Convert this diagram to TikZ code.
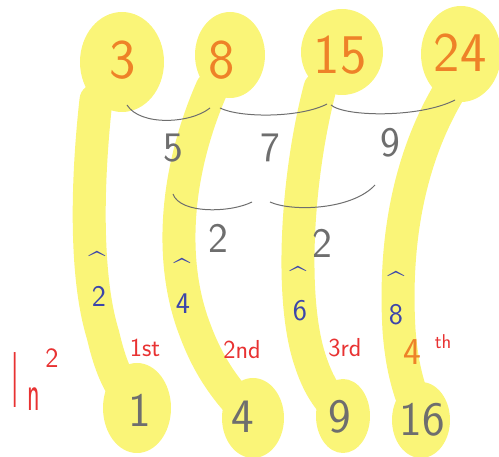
\documentclass[tikz,border=0pt]{standalone}
\begin{document}
\begin{tikzpicture}[x=1pt,y=-1pt,
  hl/.style={draw=hly,line width=33pt,line cap=round},
  blob/.style={fill=hly,draw=none},
  top/.style={text=orng,font=\sffamily\fontsize{56}{56}\selectfont,inner sep=0pt},
  diff/.style={text=gry,font=\sffamily\fontsize{42}{42}\selectfont,inner sep=0pt},
  sq/.style={text=gry,font=\sffamily\fontsize{48}{48}\selectfont,inner sep=0pt},
  bl/.style={text=blu,font=\sffamily\fontsize{30}{30}\selectfont,inner sep=0pt},
  rd/.style={text=red0,font=\sffamily\fontsize{26}{26}\selectfont,inner sep=0pt},
  arc/.style={draw=gry,line width=1pt}]
\definecolor{hly}{RGB}{250,245,120}
\definecolor{orng}{RGB}{238,130,40}
\definecolor{gry}{RGB}{110,110,110}
\definecolor{blu}{RGB}{60,70,170}
\definecolor{red0}{RGB}{232,50,50}
\useasboundingbox (0,0) rectangle (499,457);
% yellow highlights
\draw[hl] (96,100) .. controls (86,190) and (86,280) .. (103,335) .. controls (110,365) and (118,385) .. (135,405);
\draw[hl] (212,88) .. controls (176,170) and (168,260) .. (195,330) .. controls (208,365) and (225,390) .. (250,415);
\draw[hl] (320,88) .. controls (296,180) and (290,300) .. (310,360) .. controls (318,385) and (328,400) .. (343,414);
\draw[hl] (450,90) .. controls (402,170) and (395,260) .. (399,330) .. controls (402,370) and (410,395) .. (421,418);
\fill[blob] (122,62) ellipse [x radius=42, y radius=50];
\fill[blob] (230,55) ellipse [x radius=35, y radius=43];
\fill[blob] (342,52) ellipse [x radius=41, y radius=43];
\fill[blob] (461,54) ellipse [x radius=40, y radius=48];
\fill[blob] (137,408) ellipse [x radius=34, y radius=45];
\fill[blob] (253,418) ellipse [x radius=31, y radius=40];
\fill[blob] (343,416) ellipse [x radius=27, y radius=37];
\fill[blob] (421,420) ellipse [x radius=29, y radius=38];
% top numbers
\node[top] (t1) at (123,60) {3};
\node[top] (t2) at (222,60) {8};
\node[top] (t3) at (340,55) {15};
\node[top] (t4) at (460,53) {24};
% arc end points
\coordinate (a1) at (127,105);
\coordinate (a2) at (210,108);
\coordinate (a3) at (220,108);
\coordinate (a4) at (327,104);
\coordinate (a5) at (331,105);
\coordinate (a6) at (455,100);
\draw[arc] (a1) .. controls (140,126) and (190,124) .. (a2);
\draw[arc] (a3) .. controls (240,118) and (300,118) .. (a4);
\draw[arc] (a5) .. controls (345,117) and (420,118) .. (a6);
% first differences
\node[diff] (d1) at (173,148) {5};
\node[diff] (d2) at (270,148) {7};
\node[diff] (d3) at (390,143) {9};
\coordinate (b1) at (173,194);
\coordinate (b2) at (252,202);
\coordinate (b3) at (270,202);
\coordinate (b4) at (375,185);
\draw[arc] (b1) .. controls (180,214) and (230,213) .. (b2);
\draw[arc] (b3) .. controls (292,212) and (352,210) .. (b4);
% second differences
\node[diff] (e1) at (218,238) {2};
\node[diff] (e2) at (322,243) {2};
% blue
\node[bl] (c1) at (97,262) {\^{}};
\node[bl] (m1) at (99,296) {2};
\node[bl] (c2) at (182,269) {\^{}};
\node[bl] (m2) at (183,304) {4};
\node[bl] (c3) at (298,277) {\^{}};
\node[bl] (m3) at (300,311) {6};
\node[bl] (c4) at (396,282) {\^{}};
\node[bl] (m4) at (396,315) {8};
% red
\node[rd,font=\sffamily\fontsize{24}{24}\selectfont] (l) at (15,380) {\scalebox{1}[3.3]{l}};
\node[rd] (n) at (34,399) {\scalebox{1}[2.0]{n}};
\node[rd,font=\sffamily\fontsize{28}{28}\selectfont] (sq2) at (52,358) {2};
\node[rd] (o1) at (145,348) {1st};
\node[rd] (o2) at (242,350) {2nd};
\node[rd] (o3) at (345,348) {3rd};
\node[text=orng,font=\sffamily\fontsize{38}{38}\selectfont,inner sep=0pt] (o4) at (412,352) {4};
\node[rd,font=\sffamily\fontsize{20}{20}\selectfont] (th) at (443,342) {th};
% squares
\node[sq] (s1) at (140,410) {1};
\node[sq] (s2) at (243,417) {4};
\node[sq] (s3) at (340,417) {9};
\node[sq] (s4) at (422,420) {16};
\end{tikzpicture}
\end{document}
